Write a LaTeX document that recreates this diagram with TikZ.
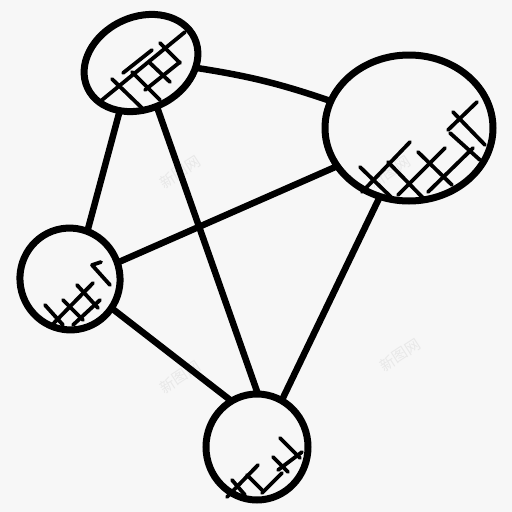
\documentclass[tikz,border=0pt]{standalone}
\usepackage{fontspec}
\newfontfamily\cjk{Noto Sans CJK SC}
\usetikzlibrary{shapes.geometric}
\begin{document}
\begin{tikzpicture}[x=1pt,y=-1pt,
  blob/.style={draw, ellipse, line width=7pt, inner sep=0pt, outer sep=0pt},
  link/.style={line width=6.5pt},
  hatch/.style={line width=3.8pt, line cap=round},
  wm/.style={text=black!9, rotate=33, font=\cjk\fontsize{15}{15}\selectfont}]
\fill[black!3] (0,0) rectangle (512,512);
\useasboundingbox (0,0) rectangle (512,512);
% watermarks
\node[wm] (w1) at (180,172) {新图网};
\node[wm] (w2) at (390,172) {新图网};
\node[wm] (w3) at (180,377) {新图网};
\node[wm] (w4) at (400,355) {新图网};
% nodes
\node[blob, minimum width=118pt, minimum height=92pt, rotate=25] (t) at (141,63) {};
\node[blob, minimum width=168pt, minimum height=146pt] (r) at (409,128) {};
\node[blob, minimum width=100pt, minimum height=102pt, rotate=15] (l) at (70,279) {};
\node[blob, minimum width=102pt, minimum height=106pt] (b) at (257,447) {};
% links
\draw[link] (t.-30) to[bend left=5] (r.161);
\draw[link] (t.-139) -- (l.55);
\draw[link] (t.-95) -- (b.89);
\draw[link] (r.208) -- (l.4);
\draw[link] (r.247) -- (b.62);
\draw[link] (l.-50) -- (b.119);
% hatching top
\draw[hatch] (102,100) -- (185,32);
\draw[hatch] (123,73) -- (152,50);
\draw[hatch] (112,79) -- (142,108);
\draw[hatch] (132,72) -- (160,100);
\draw[hatch] (145,90) -- (180,62);
\draw[hatch] (150,63) -- (170,82);
\draw[hatch] (160,43) -- (180,63);
% hatching right
\draw[hatch] (362,192) -- (410,142);
\draw[hatch] (360,167) -- (392,198);
\draw[hatch] (388,162) -- (425,200);
\draw[hatch] (398,195) -- (445,148);
\draw[hatch] (418,152) -- (452,185);
\draw[hatch] (428,192) -- (473,148);
\draw[hatch] (450,133) -- (480,160);
\draw[hatch] (448,130) -- (477,102);
\draw[hatch] (453,112) -- (485,145);
% hatching left
\draw[hatch] (92,265) -- (110,285);
\draw[hatch] (92,265) -- (101,262);
\draw[hatch] (52,325) -- (93,283);
\draw[hatch] (45,305) -- (63,325);
\draw[hatch] (63,300) -- (83,320);
\draw[hatch] (73,325) -- (100,300);
\draw[hatch] (77,285) -- (98,308);
% hatching bottom
\draw[hatch] (227,497) -- (258,465);
\draw[hatch] (232,480) -- (245,495);
\draw[hatch] (247,475) -- (262,490);
\draw[hatch] (262,493) -- (282,473);
\draw[hatch] (273,457) -- (288,472);
\draw[hatch] (278,470) -- (302,452);
\draw[hatch] (280,438) -- (300,458);
\end{tikzpicture}
\end{document}
